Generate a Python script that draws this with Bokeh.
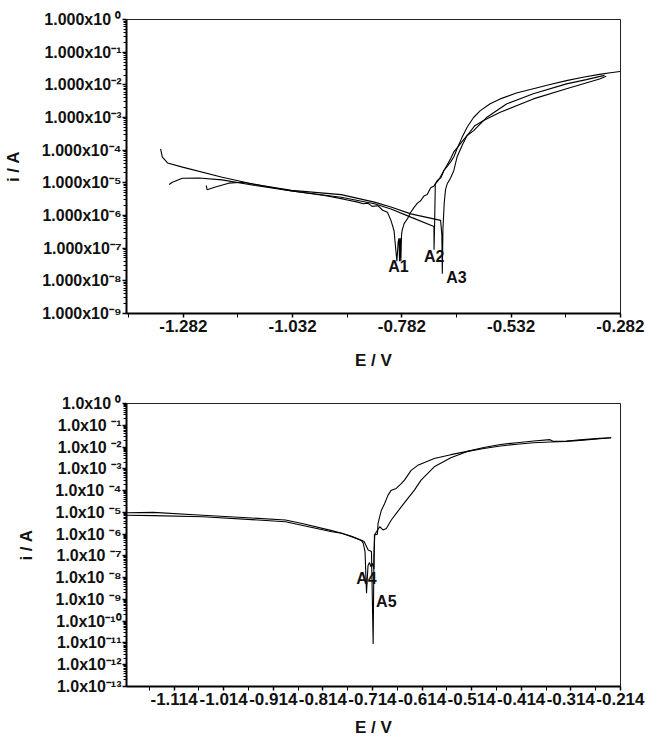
from bokeh.plotting import figure
from bokeh.models import (FixedTicker, CustomJSTickFormatter,
                          ColumnDataSource, Range1d)
from bokeh.layouts import column
from bokeh.core.properties import value
from bokeh.embed import file_html
from bokeh.resources import INLINE

FONT = "Liberation Sans"

# ---------------- top panel data ----------------
top_x_major = [-1.282, -1.032, -0.782, -0.532, -0.282]
top_x_minor = [-1.407, -1.157, -0.907, -0.657, -0.407]
top_decades = [-9, -8, -7, -6, -5, -4, -3, -2, -1, 0]

E_A1 = [-1.334, -1.330, -1.318, -1.284, -1.193, -1.118, -1.034, -0.959, -0.915, -0.883,
        -0.870, -0.860, -0.850, -0.837, -0.826, -0.815, -0.807, -0.800, -0.7934, -0.7904,
        -0.7885, -0.7874, -0.7858, -0.7843, -0.7828, -0.7813, -0.7768, -0.7692, -0.7616, -0.7540,
        -0.7464, -0.7390, -0.7313, -0.7240, -0.7161, -0.7085, -0.7010, -0.6930, -0.6858, -0.6782,
        -0.6700, -0.6630, -0.6555, -0.6440, -0.6327, -0.6180, -0.6025, -0.5800, -0.5570, -0.5200,
        -0.4813, -0.4430, -0.4054, -0.3680, -0.3297, -0.3050, -0.2830]
logI_A1 = [-3.96, -4.21, -4.39, -4.52, -4.83, -5.05, -5.25, -5.39, -5.50, -5.59,
           -5.64, -5.62, -5.72, -5.70, -5.84, -5.90, -6.15, -6.46, -7.40, -6.80,
           -6.70, -7.40, -6.70, -7.40, -6.60, -6.45, -6.25, -6.10, -5.90, -5.75,
           -5.62, -5.55, -5.40, -5.36, -5.15, -5.10, -4.93, -4.85, -4.62, -4.50,
           -4.35, -4.20, -3.95, -3.60, -3.30, -3.00, -2.79, -2.58, -2.43, -2.25,
           -2.12, -1.99, -1.87, -1.77, -1.68, -1.63, -1.59]

E_A2 = [-1.3145, -1.307, -1.2843, -1.2465, -1.1934, -1.1177, -1.0343, -0.9207, -0.8449, -0.8070,
        -0.7616, -0.7086, -0.7084, -0.7070, -0.7055, -0.7000, -0.6930, -0.6858, -0.6782, -0.6700,
        -0.6630, -0.6479, -0.6327, -0.6177, -0.5873, -0.5418, -0.4813, -0.4054, -0.3600, -0.3184]
logI_A2 = [-5.05, -4.98, -4.86, -4.85, -4.91, -5.08, -5.25, -5.44, -5.64, -5.80,
           -6.05, -6.34, -7.05, -6.20, -5.03, -4.95, -4.80, -4.62, -4.45, -4.25,
           -4.05, -3.80, -3.55, -3.40, -2.99, -2.58, -2.27, -1.97, -1.84, -1.71]

E_A3 = [-1.2297, -1.2275, -1.2086, -1.1782, -1.148, -1.1025, -1.0343, -0.9207, -0.8449, -0.8070,
        -0.7616, -0.6934, -0.6905, -0.6895, -0.6880, -0.6850, -0.6821, -0.6782, -0.6706, -0.6631,
        -0.6555, -0.6440, -0.6327, -0.6150, -0.5950, -0.5570, -0.4813, -0.4054, -0.3297, -0.3145]
logI_A3 = [-5.08, -5.21, -5.13, -5.01, -4.98, -5.08, -5.23, -5.36, -5.59, -5.74,
           -5.95, -6.15, -6.60, -7.78, -6.40, -5.60, -5.20, -5.03, -4.85, -4.62,
           -4.20, -3.85, -3.55, -3.25, -3.09, -2.84, -2.43, -2.12, -1.82, -1.74]

top_labels = ["A1", "A2", "A3"]
top_label_E = [-0.790, -0.708, -0.657]
top_label_I = [2.7e-8, 5.6e-8, 1.3e-8]

# ---------------- bottom panel data ----------------
bot_x_major = [-1.114, -1.014, -0.914, -0.814, -0.714, -0.614, -0.514, -0.414, -0.314, -0.214]
bot_x_minor = [-1.164, -1.064, -0.964, -0.864, -0.764, -0.664, -0.564, -0.464, -0.364, -0.264]
bot_decades = [-13, -12, -11, -10, -9, -8, -7, -6, -5, -4, -3, -2, -1, 0]

E_A4 = [-1.2094, -1.156, -1.056, -0.8894, -0.796, -0.776, -0.756, -0.7426, -0.736, -0.7326,
        -0.729, -0.726, -0.723, -0.720, -0.717, -0.714, -0.711, -0.710, -0.6994, -0.6927,
        -0.686, -0.676, -0.666, -0.656, -0.6426, -0.6294, -0.616, -0.5894, -0.556, -0.5226,
        -0.4894, -0.456, -0.4226, -0.389, -0.356, -0.349, -0.3226, -0.289, -0.256, -0.2326]
logI_A4 = [-5.13, -5.15, -5.20, -5.43, -5.89, -5.96, -6.12, -6.24, -6.30, -6.42,
           -6.80, -8.71, -7.45, -7.30, -7.50, -7.35, -7.60, -6.04, -5.66, -5.81,
           -5.74, -5.35, -5.05, -4.75, -4.36, -3.98, -3.52, -2.91, -2.49, -2.20,
           -2.02, -1.88, -1.80, -1.72, -1.66, -1.74, -1.72, -1.66, -1.60, -1.57]

E_A5 = [-1.2094, -1.156, -1.056, -0.8894, -0.856, -0.796, -0.776, -0.756, -0.7426, -0.736,
        -0.7306, -0.7226, -0.716, -0.7126, -0.7110, -0.7094, -0.704, -0.7027, -0.6994, -0.696,
        -0.6894, -0.6826, -0.676, -0.666, -0.656, -0.6494, -0.636, -0.6226, -0.5894, -0.556,
        -0.5226, -0.4894, -0.456, -0.4226, -0.3894, -0.356, -0.3226, -0.289, -0.256, -0.2326]
logI_A5 = [-5.02, -5.00, -5.13, -5.35, -5.51, -5.84, -5.96, -6.10, -6.22, -6.28,
           -6.35, -6.73, -6.80, -11.05, -7.00, -6.04, -6.00, -5.51, -5.20, -4.90,
           -4.59, -4.21, -3.98, -3.90, -3.68, -3.52, -3.07, -2.84, -2.53, -2.35,
           -2.20, -2.07, -1.95, -1.87, -1.80, -1.77, -1.74, -1.68, -1.62, -1.57]

bot_labels = ["A4", "A5"]
bot_label_E = [-0.726, -0.686]
bot_label_I = [9.5e-9, 8.0e-10]

SUP_JS = """
const sup = {'0':'\\u2070','1':'\\u00b9','2':'\\u00b2','3':'\\u00b3','4':'\\u2074',
             '5':'\\u2075','6':'\\u2076','7':'\\u2077','8':'\\u2078','9':'\\u2079','-':'\\u207b'};
const e = Math.round(Math.log10(tick));
const es = String(e);
let s = '';
for (const c of es) { s += sup[c]; }
const gap = (es.length < nspace) ? ' ' : '';
return mant + 'x10' + gap + s;
"""

XFMT_JS = "return tick.toFixed(3);"


def style(p, decades, xmaj, xmin, mant, nspace, xlabel_standoff):
    p.xgrid.visible = False
    p.ygrid.visible = False
    p.outline_line_color = "#222222"
    p.outline_line_width = 1
    p.background_fill_color = "white"
    p.border_fill_color = "white"

    yt = [10.0 ** d for d in decades]
    ym = [m * 10.0 ** d for d in decades[:-1] for m in range(2, 10)]
    p.yaxis.ticker = FixedTicker(ticks=yt, minor_ticks=ym)
    p.yaxis.formatter = CustomJSTickFormatter(args=dict(mant=mant, nspace=nspace), code=SUP_JS)
    p.xaxis.ticker = FixedTicker(ticks=xmaj, minor_ticks=xmin)
    p.xaxis.formatter = CustomJSTickFormatter(code=XFMT_JS)

    for ax in (p.xaxis[0], p.yaxis[0]):
        ax.axis_line_width = 2
        ax.axis_line_color = "black"
        ax.major_tick_line_width = 1.5
        ax.major_tick_line_color = "black"
        ax.minor_tick_line_width = 1
        ax.minor_tick_line_color = "black"
        ax.major_tick_out = 4
        ax.major_tick_in = 0
        ax.minor_tick_in = 0
        ax.major_label_text_font = FONT
        ax.major_label_text_font_style = "bold"
        ax.major_label_text_color = "#111111"
        ax.axis_label_text_font = FONT
        ax.axis_label_text_font_style = "bold"
        ax.axis_label_text_font_size = "17px"
        ax.axis_label_text_color = "#111111"
    p.xaxis.major_label_text_font_size = "17px"
    p.yaxis.major_label_text_font_size = "16px"
    p.xaxis.minor_tick_out = 4
    p.yaxis.minor_tick_out = 3
    p.xaxis.major_label_standoff = 2
    p.yaxis.major_label_standoff = 1
    p.xaxis.axis_label = "E / V"
    p.yaxis.axis_label = "i / A"
    p.xaxis.axis_label_standoff = xlabel_standoff
    p.yaxis.axis_label_standoff = 16


def add_curve(p, E, logI):
    src = ColumnDataSource(dict(x=E, y=[10.0 ** v for v in logI]))
    p.line("x", "y", source=src, line_color="black", line_width=1.1)


def add_labels(p, names, xs, ys):
    src = ColumnDataSource(dict(x=xs, y=ys, t=names))
    p.text("x", "y", text="t", source=src, text_font=value(FONT), text_font_style="bold",
           text_font_size="16px", text_align="center", text_baseline="middle",
           text_color="#111111")


top = figure(width=646, height=383, x_range=Range1d(-1.412, -0.2818),
             y_range=Range1d(0.999e-9, 1.001), y_axis_type="log",
             output_backend="svg", toolbar_location=None,
             min_border_left=124, min_border_right=26, min_border_top=19, min_border_bottom=70)
style(top, top_decades, top_x_major, top_x_minor, "1.000", 2, 16)
add_curve(top, E_A1, logI_A1)
add_curve(top, E_A2, logI_A2)
add_curve(top, E_A3, logI_A3)
add_labels(top, top_labels, top_label_E, top_label_I)

bottom = figure(width=646, height=356, x_range=Range1d(-1.21, -0.2138),
                y_range=Range1d(0.999e-13, 1.001), y_axis_type="log",
                output_backend="svg", toolbar_location=None,
                min_border_left=123, min_border_right=26, min_border_top=20, min_border_bottom=52)
style(bottom, bot_decades, bot_x_major, bot_x_minor, "1.0", 3, 10)
add_curve(bottom, E_A4, logI_A4)
add_curve(bottom, E_A5, logI_A5)
add_labels(bottom, bot_labels, bot_label_E, bot_label_I)

layout = column(top, bottom, spacing=0)
open("out.html", "w").write(file_html(layout, INLINE))
